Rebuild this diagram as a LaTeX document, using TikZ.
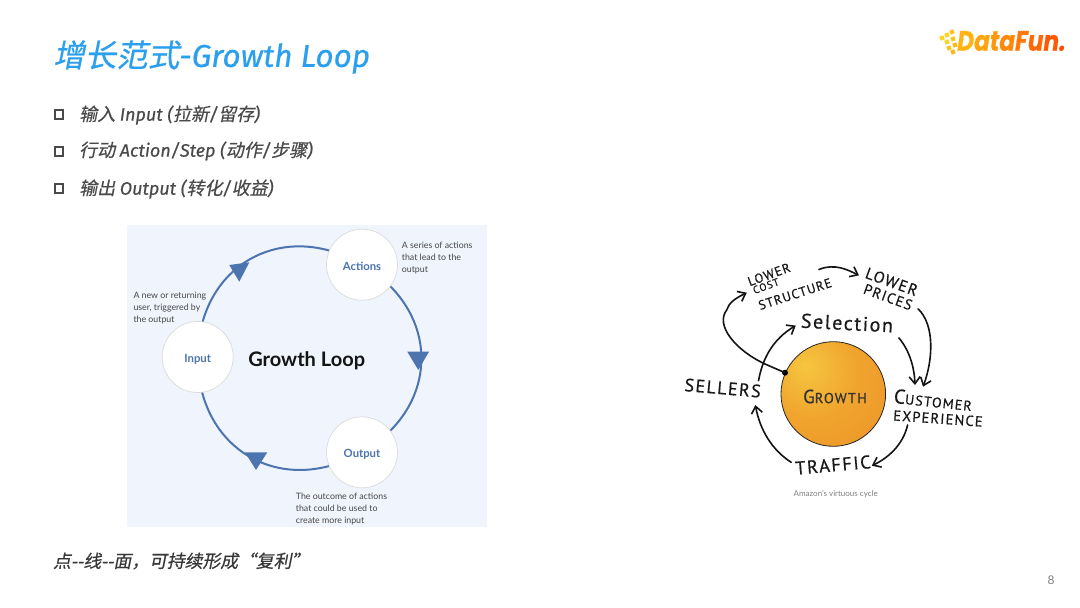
\documentclass[tikz,border=0pt]{standalone}
\usepackage{fontspec}
\usetikzlibrary{arrows.meta,backgrounds,calc}
\setmainfont{Lato}
\newfontfamily\cjk[FakeSlant=0.2,FakeBold=0.5]{Noto Sans CJK SC}
\newfontfamily\cjkb[FakeSlant=0.2,FakeBold=0.6]{Noto Sans CJK SC}
\newfontfamily\firaf[FakeBold=0.5]{Fira Sans}
\newfontfamily\handf[LetterSpace=8,FakeBold=0.5]{PT Sans}
\newfontfamily\logof[FakeBold=0.6]{Poppins}
\newcommand{\CJ}[1]{{\cjk #1}}
\newcommand{\LT}[1]{{\firaf\itshape #1}}
\newcommand{\LG}[2]{\textcolor[HTML]{#1}{#2}}
\definecolor{orbA}{HTML}{F6C63F}
\definecolor{orbB}{HTML}{F0A42E}
\definecolor{orbC}{HTML}{EC9128}
\pgfdeclareradialshading{orb}{\pgfpoint{-14bp}{14bp}}{color(0bp)=(orbA); color(22bp)=(orbB); color(50bp)=(orbC); color(80bp)=(orbC)}
\definecolor{titleblue}{HTML}{2A9FEE}
\definecolor{bodygrey}{HTML}{4A4A4A}
\definecolor{panelbg}{HTML}{F0F4FD}
\definecolor{loopblue}{HTML}{4C74AE}
\definecolor{dotA}{HTML}{FFD21E}
\definecolor{dotB}{HTML}{FFC21A}
\definecolor{dotC}{HTML}{FFB716}
\tikzset{
  x=1pt,y=-1pt,
  titletext/.style={anchor=west,inner sep=0pt,text=titleblue,font=\fontsize{31.5}{34}\selectfont},
  bullettext/.style={anchor=west,inner sep=0pt,text=bodygrey,font=\fontsize{18}{22}\selectfont},
  bulletbox/.style={draw=bodygrey,line width=2pt,minimum size=8.5pt,inner sep=0pt,fill=white},
  loopnode/.style={circle,draw=black!14,line width=.7pt,fill=white,minimum size=71pt,inner sep=0pt,text=loopblue,text height=10.6pt,text depth=0pt,font=\fontsize{11.3}{12}\selectfont\bfseries},
  looparc/.style={draw=loopblue,line width=2pt},
  looptip/.style={fill=loopblue},
  desc/.style={anchor=west,align=left,inner sep=0pt,text=black!72,font=\fontsize{8.8}{12}\selectfont},
  handtext/.style={inner sep=0pt,text=black!90,font=\handf},
  hand/.style={draw=black!92,line width=1.6pt,line cap=round,-{Straight Barb[length=7pt,width=11pt,line width=1.6pt]}},
  logodot/.style={fill=#1,minimum size=4.2pt,inner sep=0pt,rotate=20},
}
\begin{document}
\begin{tikzpicture}
\useasboundingbox (0,0) rectangle (1080,608);
\begin{pgfonlayer}{background}
\fill[white] (0,0) rectangle (1080,608);
\fill[panelbg] (127,225) rectangle (487,527);
\end{pgfonlayer}

% title
\node[titletext] (title) at (53,57) {\CJ{增长范式}\LT{-Growth Loop}};

% logo
\foreach \n/\x/\y/\c in {a/942/38/dotA,b/947/35/dotA,c/952/32/dotB,d/947/42/dotA,e/953/39/dotB,f/949/48/dotB,g/955/45/dotC,h/953/52/dotC}
  \node[logodot=\c] (dot\n) at (\x,\y) {};
\node[anchor=west,inner sep=0pt,font=\fontsize{28}{30}\selectfont\logof\bfseries\itshape] (logo) at (957,41)
  {\scalebox{.83}[1]{\LG{FFB412}{D}\LG{FFA60E}{a}\LG{FF980C}{t}\LG{FF8A0A}{a}\LG{FF7808}{F}\LG{FF6806}{u}\LG{FF5804}{n}\LG{FF4A02}{.}}};

% bullets
\node[bulletbox] (b1) at (59,114.5) {};
\node[bulletbox] (b2) at (59,151.5) {};
\node[bulletbox] (b3) at (59,188.5) {};
\node[bullettext] (t1) at (79,115) {\CJ{输入} \LT{Input (}\CJ{拉新}\LT{/}\CJ{留存}\LT{)}};
\node[bullettext] (t2) at (79,151) {\CJ{行动} \LT{Action/Step (}\CJ{动作}\LT{/}\CJ{步骤}\LT{)}};
\node[bullettext] (t3) at (79,189) {\CJ{输出} \LT{Output (}\CJ{转化}\LT{/}\CJ{收益}\LT{)}};

% left panel
\node[loopnode] (input) at (197.7,357) {Input};
\node[loopnode] (actions) at (362,264.7) {Actions};
\node[loopnode] (output) at (362,452.3) {Output};
\begin{pgfonlayer}{background}
\draw[looparc] (input.center) to[bend left=60,looseness=1.25] (actions.center);
\draw[looparc] (actions.center) to[bend left=60,looseness=1.25] (output.center);
\draw[looparc] (output.center) to[bend left=60,looseness=1.25] (input.center);
\end{pgfonlayer}
\fill[looptip] (229.3,265) -- (249.3,262.3) -- (239.3,281.7) -- cycle;
\fill[looptip] (407.3,351.7) -- (429,351.7) -- (418.3,370) -- cycle;
\fill[looptip] (245,452.3) -- (267.3,452.3) -- (256,470) -- cycle;
\node[inner sep=0pt,font=\fontsize{20}{22}\selectfont\bfseries,text=black!92] (loop) at (306.7,361) {Growth Loop};
\node[desc] (d1) at (401.7,258.3) {A series of actions\\that lead to the\\output};
\node[desc] (d2) at (133.3,308) {A new or returning\\user, triggered by\\the output};
\node[desc] (d3) at (295.7,508.8) {The outcome of actions\\that could be used to\\create more input};

% right picture
\node[circle,draw=black!85,line width=.8pt,minimum size=104.6pt,inner sep=0pt,shading=orb] (orb) at (833.3,394) {};
\node[handtext,font=\handf\fontsize{19}{20}\selectfont,text=black!80] (growth) at (835,396.5) {G\fontsize{14.5}{16}\selectfont ROWTH};
\node[handtext,rotate=20,font=\handf\fontsize{13}{14}\selectfont] (lower1) at (769,274.5) {LOWER};
\node[handtext,rotate=20,font=\handf\fontsize{10.5}{14}\selectfont] (cost) at (766,286) {COST};
\node[handtext,rotate=18,font=\handf\fontsize{13}{14}\selectfont] (structure) at (795,294) {STRUCTURE};
\node[handtext,rotate=-20,font=\handf\fontsize{16}{18}\selectfont] (lower2) at (891.7,281.7) {LOWER};
\node[handtext,rotate=-20,font=\handf\fontsize{14.5}{16}\selectfont] (prices) at (888,297) {PRICES};
\node[handtext,rotate=-3,font=\handf\fontsize{20}{24}\selectfont] (selection) at (847,323) {Selection};
\node[handtext,rotate=-5,font=\handf\fontsize{18}{20}\selectfont] (sellers) at (722.7,388) {SELLERS};
\node[handtext,rotate=-6,font=\handf\fontsize{14}{16}\selectfont] (customer) at (933,400) {{\fontsize{20}{16}\selectfont C}USTOMER};
\node[handtext,rotate=-4,font=\handf\fontsize{14.5}{16}\selectfont] (experience) at (938,418.5) {EXPERIENCE};
\node[handtext,rotate=5,font=\handf\fontsize{18.5}{20}\selectfont] (traffic) at (833,465) {TRAFFIC};
\node[inner sep=0pt,text=black!50,font=\fontsize{8}{9}\selectfont] (caption) at (835.7,493.7) {Amazon's virtuous cycle};
\coordinate (custtop1) at (915,385);
\coordinate (custtop2) at (923,386.7);
\coordinate (hub) at (785,372.7);
\fill[black] (hub) circle (3pt);
\draw[hand] ($(sellers.north east)+(-3,-4)$) .. controls (764,350) and (780,335) .. ($(selection.west)+(-5,5)$);
\draw[hand] ($(selection.south east)+(6,5)$) .. controls (905,345) and (914,360) .. (custtop1);
\draw[hand] ($(prices.south east)+(8,-2)$) .. controls (935,325) and (933,360) .. (custtop2);
\draw[hand] ($(structure.north east)+(-11,-8)$) .. controls (835,263) and (848,270) .. ($(lower2.west)+(-7,3)$);
\draw[hand] (hub) -- (765,364) .. controls (735,350) and (715,325) .. (726.7,310) .. controls (729,303) and (734,299) .. ($(lower1.south west)+(-3,6)$);
\draw[hand] ($(experience.south)+(-30,1)$) .. controls (903,445) and (888,458) .. ($(traffic.east)+(1,4)$);
\draw[hand] ($(traffic.west)+(-4,-6)$) .. controls (772,450) and (760,430) .. ($(sellers.south east)+(-5,7)$);

% bottom
\node[anchor=west,inner sep=0pt,text=black!78,font=\fontsize{17.8}{20}\selectfont\cjkb] (foot) at (53,561) {点--线--面，可持续形成“复利”};
\node[inner sep=0pt,text=black!50,font=\fontsize{12}{14}\selectfont] (page) at (1051,580) {8};
\end{tikzpicture}
\end{document}
